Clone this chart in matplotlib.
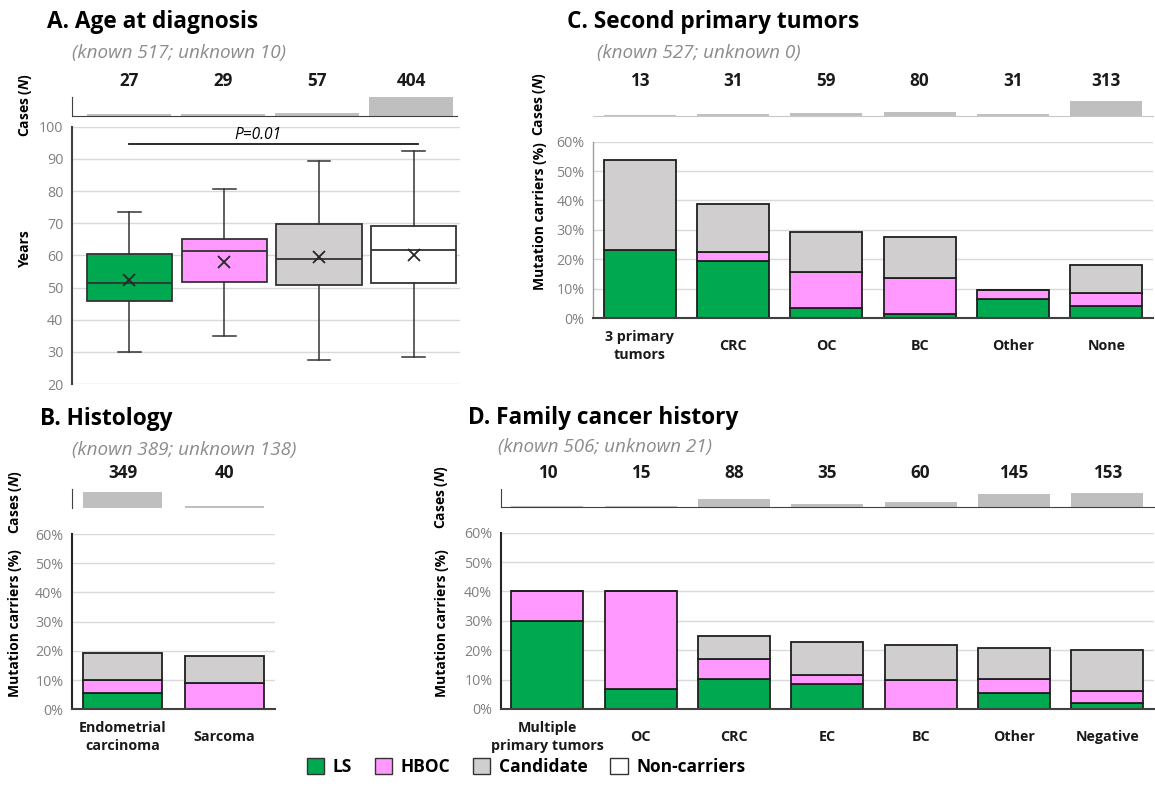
import matplotlib
matplotlib.use("Agg")
import matplotlib.pyplot as plt
from matplotlib.patches import Patch
import numpy as np

plt.rcParams["font.family"] = ["Open Sans", "DejaVu Sans"]
plt.rcParams["mathtext.fontset"] = "custom"
plt.rcParams["mathtext.it"] = "Open Sans:bold:italic"
plt.rcParams["mathtext.rm"] = "Open Sans:bold"

# ---- data ----
group_names = ["LS", "HBOC", "Candidate", "Non-carriers"]

# A. age at diagnosis (box stats)
age_n = [27, 29, 57, 404]
age_whislo = [29.8, 35.0, 27.4, 28.4]
age_q1 = [45.9, 51.8, 50.8, 51.3]
age_med = [51.3, 61.2, 59.0, 61.7]
age_q3 = [60.3, 65.0, 69.6, 69.2]
age_whishi = [73.4, 80.6, 89.3, 92.4]
age_mean = [52.3, 57.8, 59.4, 60.0]

# B. histology
hist_cats = ["Endometrial\ncarcinoma", "Sarcoma"]
hist_n = [349, 40]
hist_ls = [5.5, 0.0]
hist_hboc = [4.5, 9.0]
hist_cand = [9.1, 9.1]

# C. second primary tumors
spt_cats = ["3 primary\ntumors", "CRC", "OC", "BC", "Other", "None"]
spt_n = [13, 31, 59, 80, 31, 313]
spt_ls = [23.1, 19.4, 3.4, 1.2, 6.4, 4.0]
spt_hboc = [0.0, 3.2, 12.1, 12.5, 3.2, 4.5]
spt_cand = [30.8, 16.1, 13.8, 13.8, 0.0, 9.7]

# D. family cancer history
fam_cats = ["Multiple\nprimary tumors", "OC", "CRC", "EC", "BC", "Other", "Negative"]
fam_n = [10, 15, 88, 35, 60, 145, 153]
fam_ls = [30.0, 6.7, 10.2, 8.6, 0.0, 5.5, 2.0]
fam_hboc = [10.0, 33.3, 6.8, 2.9, 10.0, 4.8, 4.0]
fam_cand = [0.0, 0.0, 8.0, 11.4, 11.7, 10.4, 14.0]

# ---- styling ----
c_ls = "#00a850"
c_hboc = "#ff99ff"
c_cand = "#d0cece"
c_non = "#ffffff"
c_cases = "#bfbfbf"
c_grid = "#d9d9d9"
c_tick = "#808080"
c_edge = "#1f1f1f"

W, H = 1155, 794
fig = plt.figure(figsize=(W / 100, H / 100), dpi=100)


def rect(x0, y0, x1, y1):
    return [x0 / W, 1 - y1 / H, (x1 - x0) / W, (y1 - y0) / H]


def ftext(x, y, s, **kw):
    fig.text(x / W, 1 - y / H, s, **kw)


def header(x, y, title, sub, sx, sy):
    ftext(x, y, title, fontsize=16.3, fontweight="bold", va="center", ha="left")
    ftext(sx, sy, sub, fontsize=13.6, style="italic", color="#8c8c8c", va="center", ha="left")


def cases_axis(r, counts, xlim, ymax, width, left=True, bottom=True, bcol="#404040"):
    ax = fig.add_axes(r)
    x = np.arange(len(counts))
    ax.bar(x, counts, width, color=c_cases, linewidth=0)
    ax.set_xlim(*xlim)
    ax.set_ylim(0, ymax)
    ax.set_xticks([])
    ax.set_yticks([])
    for s in ["top", "right"]:
        ax.spines[s].set_visible(False)
    ax.spines["left"].set_visible(left)
    ax.spines["bottom"].set_visible(bottom)
    ax.spines["left"].set_color("#404040")
    ax.spines["bottom"].set_color(bcol)
    ax.patch.set_alpha(0)
    for i, n in enumerate(counts):
        ax.text(i, 1.9, str(n), transform=ax.get_xaxis_transform(), ha="center",
                va="center", fontsize=12.3, fontweight="bold", color="#1a1a1a")
    return ax


def style_main(ax, lw_left=1.5, left_col="#262626"):
    ax.grid(axis="y", color=c_grid, linewidth=1.0)
    ax.set_axisbelow(True)
    for s in ["top", "right"]:
        ax.spines[s].set_visible(False)
    ax.spines["left"].set_linewidth(lw_left)
    ax.spines["left"].set_color(left_col)
    ax.spines["bottom"].set_linewidth(1.5)
    ax.spines["bottom"].set_color("#404040")
    ax.tick_params(length=0)
    ax.tick_params(axis="y", labelcolor=c_tick, labelsize=10.3, pad=6)
    ax.tick_params(axis="x", pad=20)


def stacked(ax, cats, ls, hboc, cand, width):
    x = np.arange(len(cats))
    ls = np.array(ls)
    hboc = np.array(hboc)
    cand = np.array(cand)
    kw = dict(width=width, edgecolor=c_edge, linewidth=1.3)
    ax.bar(x, ls, color=c_ls, **kw)
    ax.bar(x, hboc, bottom=ls, color=c_hboc, **kw)
    ax.bar(x, cand, bottom=ls + hboc, color=c_cand, **kw)
    ax.set_ylim(0, 60)
    ax.set_yticks(np.arange(0, 61, 10))
    ax.set_yticklabels([f"{v}%" for v in range(0, 61, 10)])
    ax.set_xticks(x)
    ax.set_xticklabels(cats, linespacing=1.4, va="center", fontsize=10.3,
                       fontweight="bold", color="#1a1a1a")
    ax.set_xlim(-0.5, len(cats) - 0.5)
    style_main(ax)


def ylab(x, y, s):
    ftext(x, y, s, rotation=90, fontsize=10, fontweight="bold", ha="center", va="center")


# ---- A. age at diagnosis ----
header(47, 22, "A. Age at diagnosis", "(known 517; unknown 10)", 72, 53)
xlimA = (-0.61, 3.49)
cases_axis(rect(71.7, 97.3, 457, 115.7), age_n, xlimA, 404, 0.9)
axA = fig.add_axes(rect(71.7, 126.7, 460, 384))
stats = []
for i in range(len(age_n)):
    stats.append(dict(med=age_med[i], q1=age_q1[i], q3=age_q3[i], whislo=age_whislo[i],
                      whishi=age_whishi[i], mean=age_mean[i], fliers=[]))
bp = axA.bxp(stats, positions=np.arange(len(age_n)), widths=0.9, showmeans=True,
             patch_artist=True, capwidths=0.24,
             boxprops=dict(edgecolor="#333333", linewidth=1.3),
             medianprops=dict(color="#333333", linewidth=1.3),
             whiskerprops=dict(color="#333333", linewidth=1.1),
             capprops=dict(color="#333333", linewidth=1.1),
             meanprops=dict(marker="x", markeredgecolor="#262626", markersize=8,
                            markeredgewidth=1.3))
for patch, col in zip(bp["boxes"], [c_ls, c_hboc, c_cand, c_non]):
    patch.set_facecolor(col)
axA.set_xlim(*xlimA)
axA.set_ylim(20, 100)
axA.set_yticks(np.arange(20, 101, 10))
axA.set_xticks([])
style_main(axA, lw_left=1.5, left_col="#404040")
axA.spines["bottom"].set_visible(False)
axA.plot([0, 3.05], [94.5, 94.5], color="#1a1a1a", linewidth=1.3)
axA.text(1.36, 97.4, "P=0.01", ha="center", va="center", fontsize=11.2, style="italic")
ylab(25, 105, r"Cases ($\mathit{N}$)")
ylab(25, 249, "Years")

# ---- B. histology ----
header(40, 419, "B. Histology", "(known 389; unknown 138)", 72, 450)
cases_axis(rect(71.7, 489.3, 275, 507.7), hist_n, (-0.5, 1.5), 404, 0.78, bottom=False)
axB = fig.add_axes(rect(71.7, 534, 275, 709.3))
stacked(axB, hist_cats, hist_ls, hist_hboc, hist_cand, 0.78)
ylab(15, 502, r"Cases ($\mathit{N}$)")
ylab(15, 623, "Mutation carriers (%)")

# ---- C. second primary tumors ----
header(567, 22, "C. Second primary tumors", "(known 527; unknown 0)", 597, 53)
cases_axis(rect(593, 97.3, 1153, 115.7), spt_n, (-0.5, 5.5), 404, 0.77, left=False,
           bcol="#c8c8c8")
axC = fig.add_axes(rect(593, 141.7, 1153, 318))
stacked(axC, spt_cats, spt_ls, spt_hboc, spt_cand, 0.77)
axC.spines["left"].set_color("#a0a0a0")
axC.spines["left"].set_linewidth(1.0)
ylab(540, 104, r"Cases ($\mathit{N}$)")
ylab(540, 216, "Mutation carriers (%)")

# ---- D. family cancer history ----
header(468, 418, "D. Family cancer history", "(known 506; unknown 21)", 498, 447)
cases_axis(rect(500.7, 489, 1154, 507.3), fam_n, (-0.5, 6.5), 200, 0.77)
axD = fig.add_axes(rect(500.7, 532.7, 1154, 709))
stacked(axD, fam_cats, fam_ls, fam_hboc, fam_cand, 0.77)
ylab(442, 497, r"Cases ($\mathit{N}$)")
ylab(442, 623, "Mutation carriers (%)")

# ---- legend ----
handles = [Patch(facecolor=c, edgecolor="#333333", linewidth=1.0, label=l)
           for c, l in zip([c_ls, c_hboc, c_cand, c_non], group_names)]
fig.legend(handles=handles, loc="center", bbox_to_anchor=(526 / W, 1 - 767 / H), ncol=4,
           frameon=False, prop=dict(size=12.5, weight="bold"), handlelength=1.0,
           handleheight=1.0, columnspacing=1.3, handletextpad=0.5)

fig.savefig("out.png", dpi=100)
